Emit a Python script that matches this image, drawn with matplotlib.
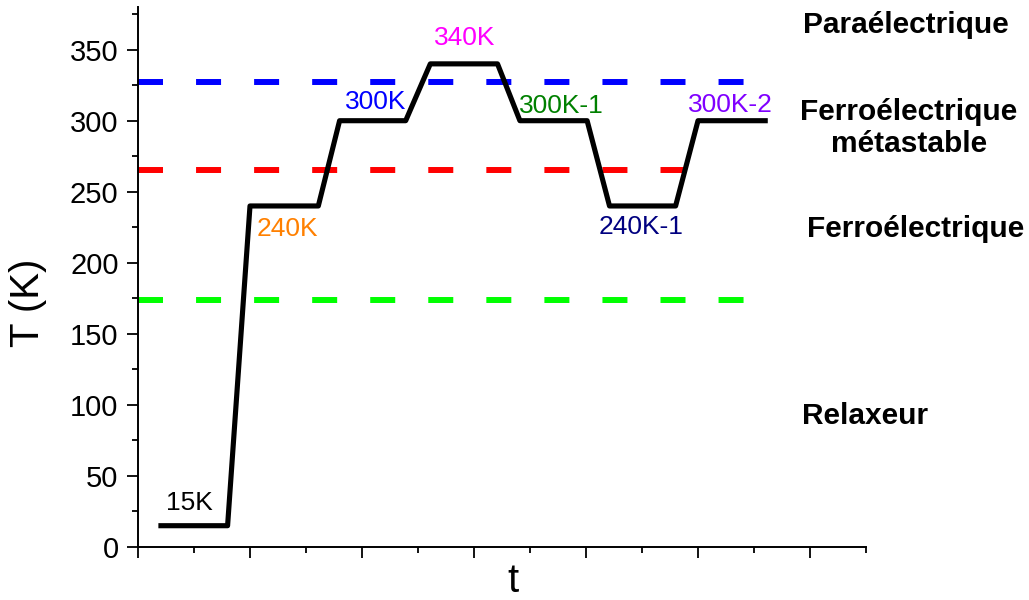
import matplotlib.pyplot as plt
from matplotlib.ticker import MultipleLocator

plt.rcParams["font.family"] = ["Liberation Sans", "DejaVu Sans"]
plt.rcParams["lines.scale_dashes"] = False

# thermal cycle (arbitrary time units)
cycle_t = [0.205, 0.80, 1.0, 1.61, 1.80, 2.39, 2.61, 3.21, 3.41, 4.01, 4.21, 4.80, 5.0, 5.60]
cycle_T = [15, 15, 240, 240, 300, 300, 340, 340, 300, 300, 240, 240, 300, 300]

# phase boundaries
bound_T = [327, 265, 174]
bound_end = [5.5, 4.93, 5.5]
bound_colors = ["#0000ff", "#ff0000", "#00ff00"]

# step labels
step_labels = ["15K", "240K", "300K", "340K", "300K-1", "240K-1", "300K-2"]
step_x = [0.46, 1.33, 2.12, 2.92, 3.78, 4.49, 5.29]
step_y = [31, 224, 313, 358, 310, 225, 311]
step_colors = ["black", "#ff8000", "#0000ff", "#ff00ff", "#008000", "#000080", "#8000ff"]

# phase names
phase_labels = ["Paraélectrique", "Ferroélectrique\nmétastable", "Ferroélectrique", "Relaxeur"]
phase_x = [6.86, 6.88, 6.94, 6.49]
phase_y = [367, 295, 224, 92]

fig = plt.figure(figsize=(10.29, 6), dpi=100)
ax = fig.add_axes([0.1341, 0.0883, 0.7075, 0.9000])

for T, xe, c in zip(bound_T, bound_end, bound_colors):
    ax.plot([0, xe], [T, T], color=c, lw=4.3, dashes=(18, 23.8), solid_capstyle="butt",
            dash_capstyle="butt", zorder=2)

ax.plot(cycle_t, cycle_T, color="black", lw=3.7, zorder=3)

for lab, x, y, c in zip(step_labels, step_x, step_y, step_colors):
    ax.text(x, y, lab, color=c, fontsize=19, ha="center", va="center")

for lab, x, y in zip(phase_labels, phase_x, phase_y):
    ax.text(x, y, lab, fontsize=21.5, fontweight="bold", ha="center", va="center",
            clip_on=False, linespacing=1.2)

ax.set_xlim(0, 6.5)
ax.set_ylim(0, 380)
ax.xaxis.set_major_locator(MultipleLocator(1))
ax.xaxis.set_minor_locator(MultipleLocator(0.5))
ax.yaxis.set_major_locator(MultipleLocator(50))
ax.yaxis.set_minor_locator(MultipleLocator(25))
ax.set_xticklabels([])
ax.tick_params(which="major", length=8, width=1.3, labelsize=21, pad=6)
ax.tick_params(which="minor", length=4.3, width=1.3)

ax.spines["top"].set_visible(False)
ax.spines["right"].set_visible(False)
for s in ("left", "bottom"):
    ax.spines[s].set_linewidth(1.4)

fig.text(28 / 1029, 1 - 303 / 600, "T (K)", fontsize=29, rotation=90, ha="center", va="center")
fig.text(513 / 1029, 1 - 581 / 600, "t", fontsize=29, ha="center", va="center")

fig.savefig("out.png", dpi=100)
